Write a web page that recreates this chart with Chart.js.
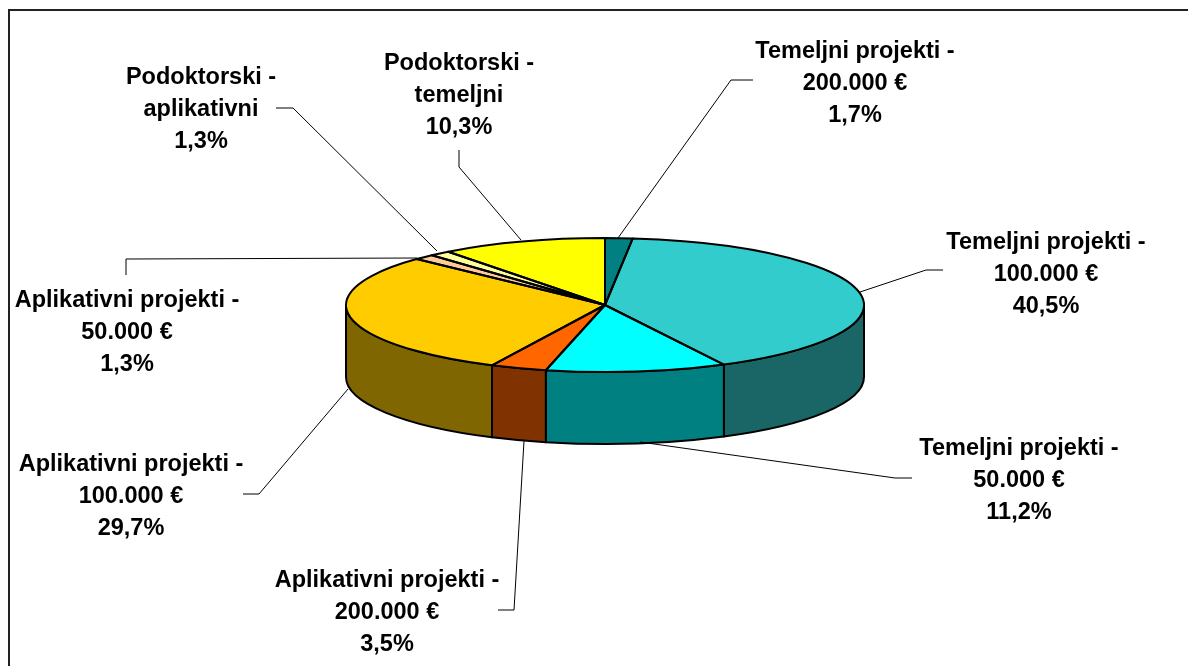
<!DOCTYPE html>
<html><head><meta charset="utf-8">
<style>html,body{margin:0;padding:0;background:#fff}canvas{display:block}</style>
<script src="https://cdn.jsdelivr.net/npm/chart.js@4"></script>
</head><body>
<div style="width:1188px;height:666px;position:relative"><canvas id="c" width="1188" height="666"></canvas></div>
<script>
const categories = ["Temeljni projekti -\n200.000 €","Temeljni projekti -\n100.000 €","Temeljni projekti -\n50.000 €","Aplikativni projekti -\n200.000 €","Aplikativni projekti -\n100.000 €","Aplikativni projekti -\n50.000 €","Podoktorski -\naplikativni","Podoktorski -\ntemeljni"];
const shares = [1.7,40.5,11.2,3.5,29.7,1.3,1.3,10.3];
const topColors = ["#008080","#33CCCC","#00FFFF","#FF6600","#FFCC00","#FFCC99","#FFFF99","#FFFF00"];
const wallColors = ["#004040","#1A6666","#008080","#803300","#806600","#806633","#80804D","#808000"];
const labelCentres = [[855,83.5],[1046,275],[1019,480.5],[387,612.5],[131,496.5],[127,333],[201,110],[459,96]];
const leaders = [
 [[753,80],[731,80],[618,238]],
 [[943,270],[926,270],[860,292]],
 [[912,478],[895,478],[640,442]],
 [[498,610],[514,610],[524,441]],
 [[243,494],[259,494],[348,389]],
 [[126,275],[126,259],[417,258]],
 [[276,108],[293,108],[437,251]],
 [[459,150],[459,167],[521,240]]
];
const squash = 67/259, depth = 72, lineH = 32;
const FONT = 'bold 23.5px "Liberation Sans", Arial, sans-serif';

function arcs(chart){return chart.getDatasetMeta(0).data;}
const pie3d = {
 id:'pie3d',
 beforeDatasetsDraw(chart){
  const ctx = chart.ctx, els = arcs(chart), cx = els[0].x, cy = els[0].y, r = els[0].outerRadius, ry = r*squash;
  // frame
  ctx.save();
  ctx.strokeStyle='#222'; ctx.lineWidth=2;
  ctx.beginPath(); ctx.moveTo(9,666); ctx.lineTo(9,10); ctx.lineTo(1188,10); ctx.stroke();
  // walls
  ctx.lineWidth=2; ctx.strokeStyle='#000'; ctx.lineJoin='round';
  els.forEach((el,i)=>{
   const tau=Math.PI*2;
   let a=el.startAngle,b=el.endAngle;
   while(a<0){a+=tau;b+=tau;}
   [[0,Math.PI],[tau,tau+Math.PI]].forEach(([lo,hi])=>{
    const s=Math.max(a,lo),e=Math.min(b,hi);
    if(e<=s)return;
    ctx.beginPath();
    ctx.ellipse(cx,cy,r,ry,0,s,e);
    ctx.ellipse(cx,cy+depth,r,ry,0,e,s,true);
    ctx.closePath();
    ctx.fillStyle=wallColors[i]; ctx.fill(); ctx.stroke();
   });
  });
  ctx.restore();
  ctx.save();
  ctx.translate(cx,cy); ctx.scale(1,squash); ctx.translate(-cx,-cy);
 },
 afterDatasetsDraw(chart){
  const ctx = chart.ctx; ctx.restore();
  const els = arcs(chart), cx = els[0].x, cy = els[0].y, r = els[0].outerRadius, ry = r*squash;
  ctx.save();
  ctx.lineWidth=2; ctx.strokeStyle='#000'; ctx.lineJoin='round';
  els.forEach(el=>{
   ctx.beginPath(); ctx.moveTo(cx,cy);
   ctx.ellipse(cx,cy,r,ry,0,el.startAngle,el.endAngle);
   ctx.closePath(); ctx.stroke();
  });
  // leaders
  ctx.lineWidth=1; ctx.strokeStyle='#000';
  leaders.forEach(p=>{
   ctx.beginPath(); p.forEach((q,i)=>i?ctx.lineTo(q[0],q[1]):ctx.moveTo(q[0],q[1])); ctx.stroke();
  });
  // labels
  ctx.fillStyle='#000'; ctx.font=FONT; ctx.textAlign='center'; ctx.textBaseline='middle';
  categories.forEach((name,i)=>{
   const lines=name.split('\n').concat(String(shares[i]).replace('.',',')+'%');
   lines.forEach((t,j)=>ctx.fillText(t,labelCentres[i][0],labelCentres[i][1]+(j-1)*lineH));
  });
  ctx.restore();
 }
};
new Chart(document.getElementById('c'),{
 type:'pie',
 data:{labels:categories,datasets:[{data:shares,backgroundColor:topColors,borderWidth:0,clip:false}]},
 options:{responsive:false,animation:false,
  layout:{padding:{left:346,right:324,top:46,bottom:102}},
  plugins:{legend:{display:false},tooltip:{enabled:false},title:{display:false}}},
 plugins:[pie3d]
});
</script>
</body></html>
